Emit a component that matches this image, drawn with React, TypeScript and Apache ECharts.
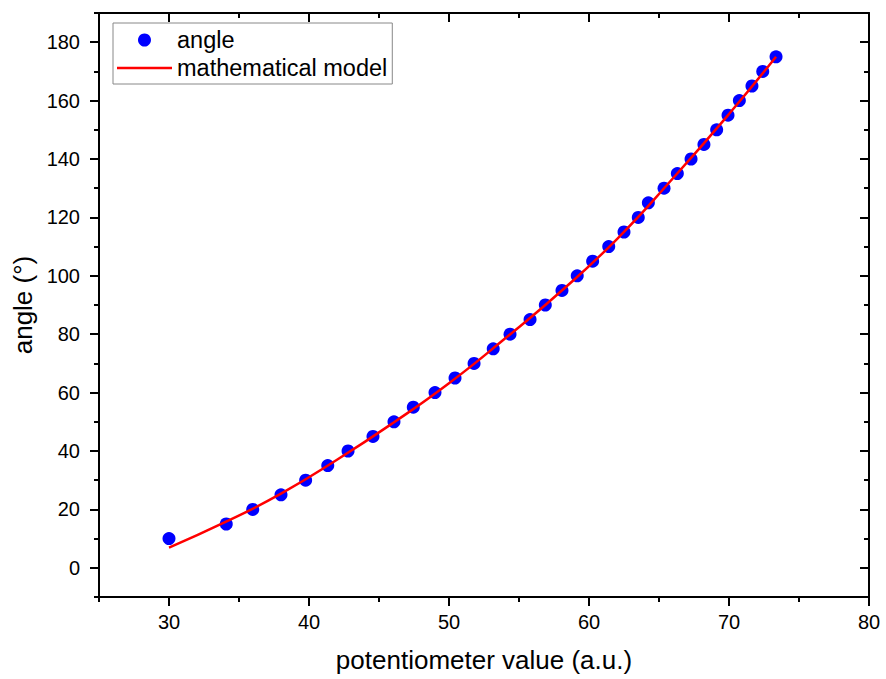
import React, { useEffect, useRef } from "react";
import * as echarts from "echarts";

const angleValues = [10, 15, 20, 25, 30, 35, 40, 45, 50, 55, 60, 65, 70, 75, 80, 85, 90, 95, 100, 105, 110, 115, 120, 125, 130, 135, 140, 145, 150, 155, 160, 165, 170, 175];
const potValues = [30.0, 34.09, 35.98, 38.0, 39.76, 41.34, 42.79, 44.57, 46.07, 47.45, 49.0, 50.43, 51.79, 53.16, 54.36, 55.79, 56.88, 58.07, 59.16, 60.26, 61.41, 62.5, 63.52, 64.24, 65.36, 66.31, 67.29, 68.21, 69.12, 69.93, 70.74, 71.64, 72.41, 73.36];

const modelX = [30, 34, 38, 42, 46, 50, 54, 58, 62, 66, 70, 73.36];
const modelY = [6.9, 15.6, 25.4, 37.0, 49.6, 63.2, 78.5, 94.7, 112.6, 133.4, 155.4, 175.0];

const xMajor = [30, 40, 50, 60, 70, 80];
const xMinor = [25, 35, 45, 55, 65, 75];
const yMajor = [0, 20, 40, 60, 80, 100, 120, 140, 160, 180];
const yMinor = [-10, 10, 30, 50, 70, 90, 110, 130, 150, 170, 190];

const FONT = 'Arial, "Liberation Sans", sans-serif';
const LINE = { show: true, onZero: false, lineStyle: { color: "#000", width: 2 } };
const NOLINE = { show: false, onZero: false };

export default function App() {
  const ref = useRef<HTMLDivElement>(null);
  useEffect(() => {
    if (!ref.current) return;
    const chart = echarts.init(ref.current, undefined, { renderer: "svg" });
    const grid = { left: 99, right: 17, top: 13, bottom: 82 };
    const xBase = (gridIndex: number, position: string, ticks: number[], len: number, inside: boolean, labels: boolean, lineShow: boolean) => ({
      type: "value",
      gridIndex,
      position,
      min: 25,
      max: 80,
      axisLine: lineShow ? LINE : NOLINE,
      axisTick: { show: true, customValues: ticks, length: len, inside, lineStyle: { color: "#000", width: 2 } },
      axisLabel: labels
        ? { show: true, customValues: ticks, fontSize: 20, color: "#000", fontFamily: FONT, margin: 15 }
        : { show: false },
      splitLine: { show: false },
    });
    const yBase = (gridIndex: number, position: string, ticks: number[], len: number, inside: boolean, labels: boolean, lineShow: boolean) => ({
      type: "value",
      gridIndex,
      position,
      min: -10,
      max: 190,
      axisLine: lineShow ? LINE : NOLINE,
      axisTick: { show: true, customValues: ticks, length: len, inside, lineStyle: { color: "#000", width: 2 } },
      axisLabel: labels
        ? { show: true, customValues: ticks, fontSize: 20, color: "#000", fontFamily: FONT, margin: 19 }
        : { show: false },
      splitLine: { show: false },
    });
    const xMain: any = xBase(0, "bottom", xMajor, 9, false, true, true);
    xMain.name = "potentiometer value (a.u.)";
    xMain.nameLocation = "middle";
    xMain.nameGap = 50;
    xMain.nameTextStyle = { fontSize: 26, color: "#000", fontFamily: FONT };
    const yMain: any = yBase(0, "left", yMajor, 9, false, true, true);
    yMain.name = "angle (°)";
    yMain.nameLocation = "middle";
    yMain.nameGap = 62;
    yMain.nameTextStyle = { fontSize: 26, color: "#000", fontFamily: FONT };

    chart.setOption({
      animation: false,
      backgroundColor: "#fff",
      grid: [grid, grid],
      xAxis: [
        xMain,
        xBase(0, "top", xMajor, 9, true, false, true),
        xBase(1, "bottom", xMinor, 5, false, false, false),
        xBase(1, "top", xMinor, 5, true, false, false),
      ],
      yAxis: [
        yMain,
        yBase(0, "right", yMajor, 9, true, false, true),
        yBase(1, "left", yMinor, 5, false, false, false),
        yBase(1, "right", yMinor, 5, true, false, false),
      ],
      legend: {
        orient: "vertical",
        left: 113,
        top: 23,
        padding: [5, 5, 4, 4],
        itemWidth: 55,
        itemHeight: 13,
        itemGap: 4,
        symbolKeepAspect: true,
        borderColor: "#888",
        borderWidth: 1,
        textStyle: { fontSize: 23.5, color: "#000", fontFamily: FONT },
        data: [
          { name: "angle", icon: "circle" },
          { name: "mathematical model", icon: "path://M0,0 L55,0 L55,2.5 L0,2.5 Z" },
        ],
      },
      series: [
        {
          name: "angle",
          type: "scatter",
          xAxisIndex: 0,
          yAxisIndex: 0,
          symbol: "circle",
          symbolSize: 13,
          itemStyle: { color: "#0000ff", opacity: 1 },
          data: potValues.map((x, i) => [x, angleValues[i]]),
        },
        {
          name: "mathematical model",
          type: "line",
          xAxisIndex: 0,
          yAxisIndex: 0,
          smooth: true,
          symbol: "none",
          showSymbol: false,
          lineStyle: { color: "#ff0000", width: 2.5 },
          itemStyle: { color: "#ff0000" },
          data: modelX.map((x, i) => [x, modelY[i]]),
        },
      ],
    });
    return () => chart.dispose();
  }, []);
  return <div ref={ref} style={{ position: "absolute", left: 0, top: 0, width: 886, height: 679 }} />;
}
